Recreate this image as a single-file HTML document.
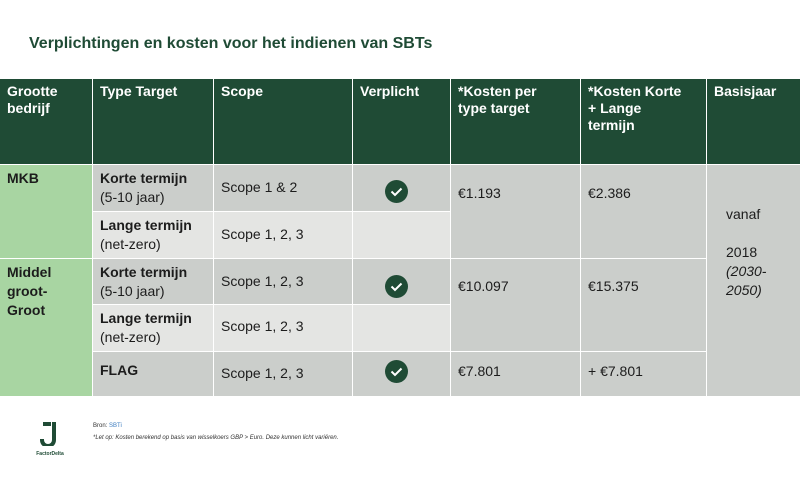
<!DOCTYPE html>
<html><head><meta charset="utf-8"><style>
body{margin:0;width:800px;height:500px;background:#fff;position:relative;overflow:hidden;font-family:"Liberation Sans",sans-serif;}
.c{position:absolute;box-sizing:border-box;padding:4px 7px;font-size:14px;color:#1c1c1c;line-height:19px;}
.h{background:#1f4b35;color:#fff;font-weight:bold;font-size:14px;line-height:17px;padding:4px 7px;}
.d{background:#cbcecb}.l{background:#e4e5e3}.g{background:#a8d5a2;font-weight:bold}
.chk{position:absolute;width:23px;height:23px;border-radius:50%;background:#1f4b35;}
</style></head><body>
<div style="position:absolute;left:29px;top:35px;font-size:16px;font-weight:bold;color:#1f4b35">Verplichtingen en kosten voor het indienen van SBTs</div>
<div style="position:absolute;left:0;top:0">
<div class="c h" style="left:0;top:79px;width:92px;height:85px">Grootte<br>bedrijf</div>
<div class="c h" style="left:93px;top:79px;width:120px;height:85px">Type Target</div>
<div class="c h" style="left:214px;top:79px;width:138px;height:85px">Scope</div>
<div class="c h" style="left:353px;top:79px;width:97px;height:85px">Verplicht</div>
<div class="c h" style="left:451px;top:79px;width:129px;height:85px">*Kosten per<br>type target</div>
<div class="c h" style="left:581px;top:79px;width:125px;height:85px">*Kosten Korte<br>+ Lange<br>termijn</div>
<div class="c h" style="left:707px;top:79px;width:93px;height:85px">Basisjaar</div>

<div class="c g" style="left:0;top:165px;width:92px;height:93px">MKB</div>
<div class="c g" style="left:0;top:259px;width:92px;height:137px">Middel<br>groot-<br>Groot</div>

<div class="c d" style="left:93px;top:165px;width:120px;height:46px"><b>Korte termijn</b><br>(5-10 jaar)</div>
<div class="c l" style="left:93px;top:212px;width:120px;height:46px"><b>Lange termijn</b><br>(net-zero)</div>
<div class="c d" style="left:93px;top:259px;width:120px;height:45px"><b>Korte termijn</b><br>(5-10 jaar)</div>
<div class="c l" style="left:93px;top:305px;width:120px;height:46px"><b>Lange termijn</b><br>(net-zero)</div>
<div class="c d" style="left:93px;top:352px;width:120px;height:44px;padding-top:9px"><b>FLAG</b></div>

<div class="c d" style="left:214px;top:165px;width:138px;height:46px;padding-top:13px">Scope 1 &amp; 2</div>
<div class="c l" style="left:214px;top:212px;width:138px;height:46px;padding-top:13px">Scope 1, 2, 3</div>
<div class="c d" style="left:214px;top:259px;width:138px;height:45px;padding-top:13px">Scope 1, 2, 3</div>
<div class="c l" style="left:214px;top:305px;width:138px;height:46px;padding-top:12px">Scope 1, 2, 3</div>
<div class="c d" style="left:214px;top:352px;width:138px;height:44px;padding-top:12px">Scope 1, 2, 3</div>

<div class="c d" style="left:353px;top:165px;width:97px;height:46px"></div>
<div class="c l" style="left:353px;top:212px;width:97px;height:46px"></div>
<div class="c d" style="left:353px;top:259px;width:97px;height:45px"></div>
<div class="c l" style="left:353px;top:305px;width:97px;height:46px"></div>
<div class="c d" style="left:353px;top:352px;width:97px;height:44px"></div>

<div class="c d" style="left:451px;top:165px;width:129px;height:93px;padding-top:19px">€1.193</div>
<div class="c d" style="left:451px;top:259px;width:129px;height:92px;padding-top:18px">€10.097</div>
<div class="c d" style="left:451px;top:352px;width:129px;height:44px;padding-top:10px">€7.801</div>
<div class="c d" style="left:581px;top:165px;width:125px;height:93px;padding-top:19px">€2.386</div>
<div class="c d" style="left:581px;top:259px;width:125px;height:92px;padding-top:18px">€15.375</div>
<div class="c d" style="left:581px;top:352px;width:125px;height:44px;padding-top:10px">+ €7.801</div>
<div class="c d" style="left:707px;top:165px;width:93px;height:231px;padding:40px 0 0 19px">vanaf<br><br>2018<br><i>(2030-<br>2050)</i></div>
</div>

<div class="chk" style="left:385px;top:180px"><svg width="23" height="23"><path d="M6.5 11.5l3.5 3.5 6.5-6.5" stroke="#fff" stroke-width="2" fill="none"/></svg></div>
<div class="chk" style="left:385px;top:275px"><svg width="23" height="23"><path d="M6.5 11.5l3.5 3.5 6.5-6.5" stroke="#fff" stroke-width="2" fill="none"/></svg></div>
<div class="chk" style="left:385px;top:360px"><svg width="23" height="23"><path d="M6.5 11.5l3.5 3.5 6.5-6.5" stroke="#fff" stroke-width="2" fill="none"/></svg></div>

<div style="position:absolute;left:30px;top:422px;width:40px;text-align:center">
<svg width="22" height="24" viewBox="0 0 22 24"><path d="M4 2h8M15 0v18a6 6 0 0 1-6 6a6 6 0 0 1-6-6v-1" stroke="#1f4b35" stroke-width="4" fill="none"/></svg>
<div style="font-size:5px;color:#1f4b35;font-weight:bold">FactorDelta</div></div>
<div style="position:absolute;left:93px;top:423px;font-size:6px;color:#333">Bron: <span style="color:#3a7bbf">SBTi</span></div>
<div style="position:absolute;left:93px;top:435px;font-size:6px;color:#333;font-style:italic">*Let op: Kosten berekend op basis van wisselkoers GBP &gt; Euro. Deze kunnen licht variëren.</div>
</body></html>
